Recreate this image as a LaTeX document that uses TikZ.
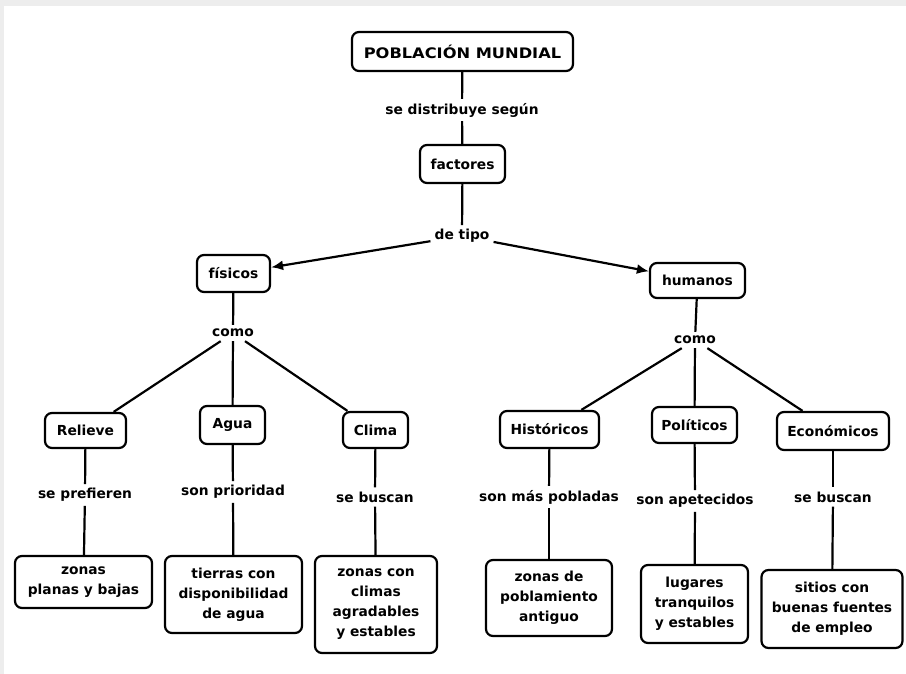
\documentclass[tikz,border=0pt]{standalone}
\usepackage{fontspec}
\setmainfont{DejaVu Sans}
\newfontfamily\titlefont[FakeStretch=1.12]{DejaVu Sans}
\usetikzlibrary{arrows.meta}
\tikzset{
  box/.style={draw, line width=2.2pt, rounded corners=7pt, align=center, inner sep=0pt,
    font=\bfseries\fontsize{13.8}{20}\selectfont},
  lbl/.style={inner sep=4pt, font=\bfseries\fontsize{13.8}{16}\selectfont},
  conn/.style={line width=2.2pt},
  arr/.style={conn, -{Latex[length=12pt,width=10pt]}}
}
\begin{document}
\begin{tikzpicture}[x=1pt,y=-1pt]
\fill[black!7] (0,0) rectangle (906,674);
\fill[white] (4,6) rectangle (906,674);
\useasboundingbox (0,0) rectangle (906,674);
% top
\node[box, minimum width=221pt, minimum height=39pt] (pob) at (462.5,51.5) {\titlefont\bfseries\fontsize{14.5}{16}\selectfont POBLACIÓN MUNDIAL};
\node[lbl] (l1) at (462,110) {se distribuye según};
\node[box, minimum width=85pt, minimum height=38pt] (fac) at (462.5,164) {factores};
\node[lbl] (l2) at (462,236) {de tipo};
\node[box, minimum width=73pt, minimum height=37pt] (fis) at (233.5,273.5) {físicos};
\node[box, minimum width=95pt, minimum height=35pt] (hum) at (697.5,280.5) {humanos};
\node[lbl] (c1) at (233,333) {como};
\node[lbl] (c2) at (695,340) {como};
% second level
\node[box, minimum width=81pt, minimum height=35pt] (rel) at (85.5,430.5) {Relieve};
\node[box, minimum width=65pt, minimum height=38pt] (agu) at (232.5,425) {Agua};
\node[box, minimum width=65pt, minimum height=36pt] (cli) at (375.5,430) {Clima};
\node[box, minimum width=99pt, minimum height=37pt] (his) at (549.5,429.5) {Históricos};
\node[box, minimum width=85pt, minimum height=36pt] (pol) at (694.5,425) {Políticos};
\node[box, minimum width=112pt, minimum height=38pt] (eco) at (833,431) {Económicos};
% labels
\node[lbl] (p1) at (85,495) {se prefieren};
\node[lbl] (p2) at (233,492) {son prioridad};
\node[lbl] (p3) at (375,497) {se buscan};
\node[lbl] (p4) at (549,497) {son más pobladas};
\node[lbl] (p5) at (695,501) {son apetecidos};
\node[lbl] (p6) at (833,497) {se buscan};
% leaves
\node[box, minimum width=137pt, minimum height=52pt] (z1) at (83.5,582) {zonas\\planas y bajas};
\node[box, minimum width=137pt, minimum height=77pt] (z2) at (233.5,594.5) {tierras con\\disponibilidad\\de agua};
\node[box, minimum width=122pt, minimum height=97pt] (z3) at (376,604.5) {zonas con\\climas\\agradables\\y estables};
\node[box, minimum width=126pt, minimum height=76pt] (z4) at (549,598) {zonas de\\poblamiento\\antiguo};
\node[box, minimum width=107pt, minimum height=78pt] (z5) at (694.5,604) {lugares\\tranquilos\\y estables};
\node[box, minimum width=141pt, minimum height=78pt] (z6) at (832,609) {sitios con\\buenas fuentes\\de empleo};
% connectors
\draw[conn] (pob) -- (l1);
\draw[conn] (l1) -- (fac);
\draw[conn] (fac) -- (l2);
\draw[arr] (l2) -- (fis);
\draw[arr] (l2) -- (hum);
\draw[conn] (fis) -- (c1);
\draw[conn] (hum) -- (c2);
\draw[conn] (c1) -- (rel);
\draw[conn] (c1) -- (agu);
\draw[conn] (c1) -- (cli);
\draw[conn] (c2) -- (his);
\draw[conn] (c2) -- (pol);
\draw[conn] (c2) -- (eco);
\draw[conn] (rel) -- (p1);
\draw[conn] (agu) -- (p2);
\draw[conn] (cli) -- (p3);
\draw[conn] (his) -- (p4);
\draw[conn] (pol) -- (p5);
\draw[conn] (eco) -- (p6);
\draw[conn] (p1) -- (z1);
\draw[conn] (p2) -- (z2);
\draw[conn] (p3) -- (z3);
\draw[conn] (p4) -- (z4);
\draw[conn] (p5) -- (z5);
\draw[conn] (p6) -- (z6);
\end{tikzpicture}
\end{document}
